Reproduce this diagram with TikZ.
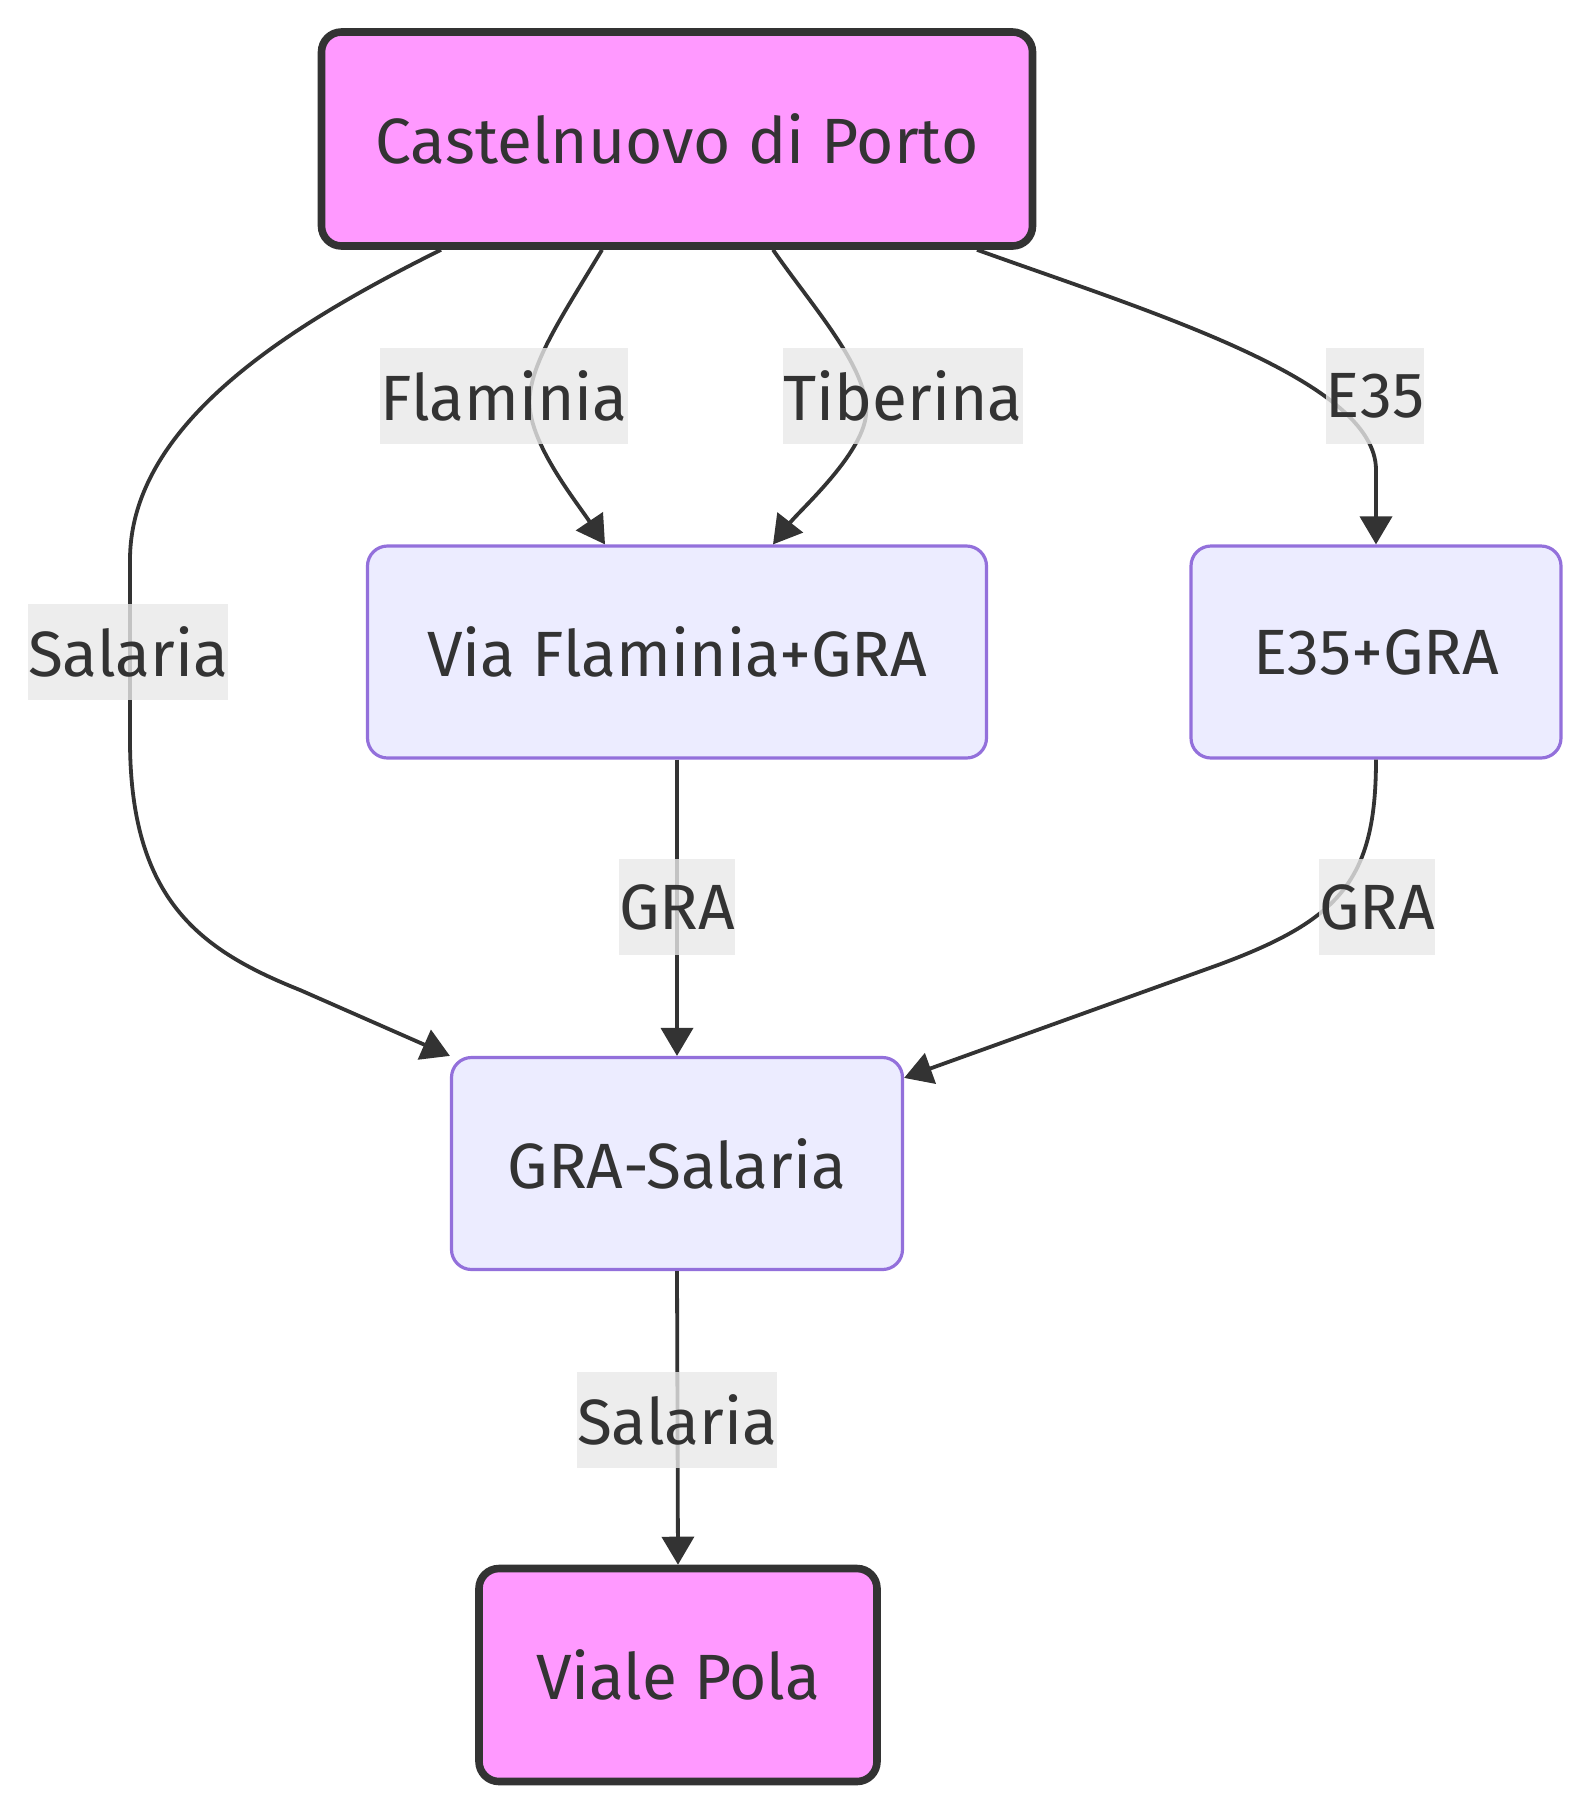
\documentclass[tikz,border=0pt]{standalone}
\usepackage{fontspec}
\setmainfont{Fira Sans}
\usetikzlibrary{arrows.meta,calc}
\definecolor{pinkfill}{HTML}{FF99FF}
\definecolor{darkline}{HTML}{333333}
\definecolor{midfill}{HTML}{ECECFF}
\definecolor{midline}{HTML}{9370DB}
\definecolor{lblbg}{HTML}{E8E8E8}
\begin{document}
\begin{tikzpicture}[x=0.5pt,y=-0.5pt,
  txt/.style={font=\fontsize{32}{38}\selectfont, text=darkline},
  endbox/.style={txt, draw=darkline, fill=pinkfill, line width=3.8pt, rounded corners=10pt, inner sep=0pt},
  midbox/.style={txt, draw=midline, fill=midfill, line width=1.6pt, rounded corners=10pt, inner sep=0pt},
  lbl/.style={txt, fill=lblbg, fill opacity=0.8, text opacity=1, inner xsep=0pt, inner ysep=0pt, minimum height=48pt},
  edge/.style={draw=darkline, line width=1.9pt, -{Triangle[length=14pt,width=16pt]}}]
\useasboundingbox (0,0) rectangle (1592,1816);
% nodes
\node[endbox, minimum width=355.5pt, minimum height=107pt] (cp) at (677,139) {Castelnuovo di Porto};
\node[midbox, minimum width=309.5pt, minimum height=106pt] (vf) at (677,652) {Via Flaminia+GRA};
\node[midbox, minimum width=185pt, minimum height=106pt] (e35) at (1376,652) {E35+GRA};
\node[midbox, minimum width=225.5pt, minimum height=106pt] (gs) at (677,1163.5) {GRA-Salaria};
\node[endbox, minimum width=199pt, minimum height=106.5pt] (vp) at (678,1675) {Viale Pola};
% edges
\draw[edge] ($(cp.south)+(-236,0)$) .. controls (300,320) and (130,420) .. (130,560)
   -- (130,740) .. controls (130,900) and (200,950) .. (300,990) -- (gs.north west);
\draw[edge] ($(cp.south)+(-75,0)$) .. controls (560,320) and (525,370) .. (530,410)
   .. controls (535,450) and (575,500) .. ($(vf.north)+(-72,0)$);
\draw[edge] ($(cp.south)+(96,0)$) .. controls (815,310) and (870,370) .. (866,415)
   .. controls (862,455) and (800,510) .. ($(vf.north)+(96,0)$);
\draw[edge] ($(cp.south)+(300,0)$) .. controls (1150,312) and (1376,380) .. (1376,470) -- (e35.north);
\draw[edge] (vf.south) -- (gs.north);
\draw[edge] (e35.south) .. controls (1376,880) and (1340,920) .. (1218,965) -- ($(gs.north east)+(0,22)$);
\draw[edge] (gs.south) -- (vp.north);
% labels
\node[lbl] (lfl) at (504,396) {Flaminia};
\node[lbl] (lti) at (903,396) {Tiberina};
\node[lbl] (le35) at (1375,396) {E35};
\node[lbl] (lsal) at (128,652) {Salaria};
\node[lbl] (lg1) at (677,907) {GRA};
\node[lbl] (lg2) at (1377,907) {GRA};
\node[lbl] (lsal2) at (677,1420) {Salaria};
\end{tikzpicture}
\end{document}
